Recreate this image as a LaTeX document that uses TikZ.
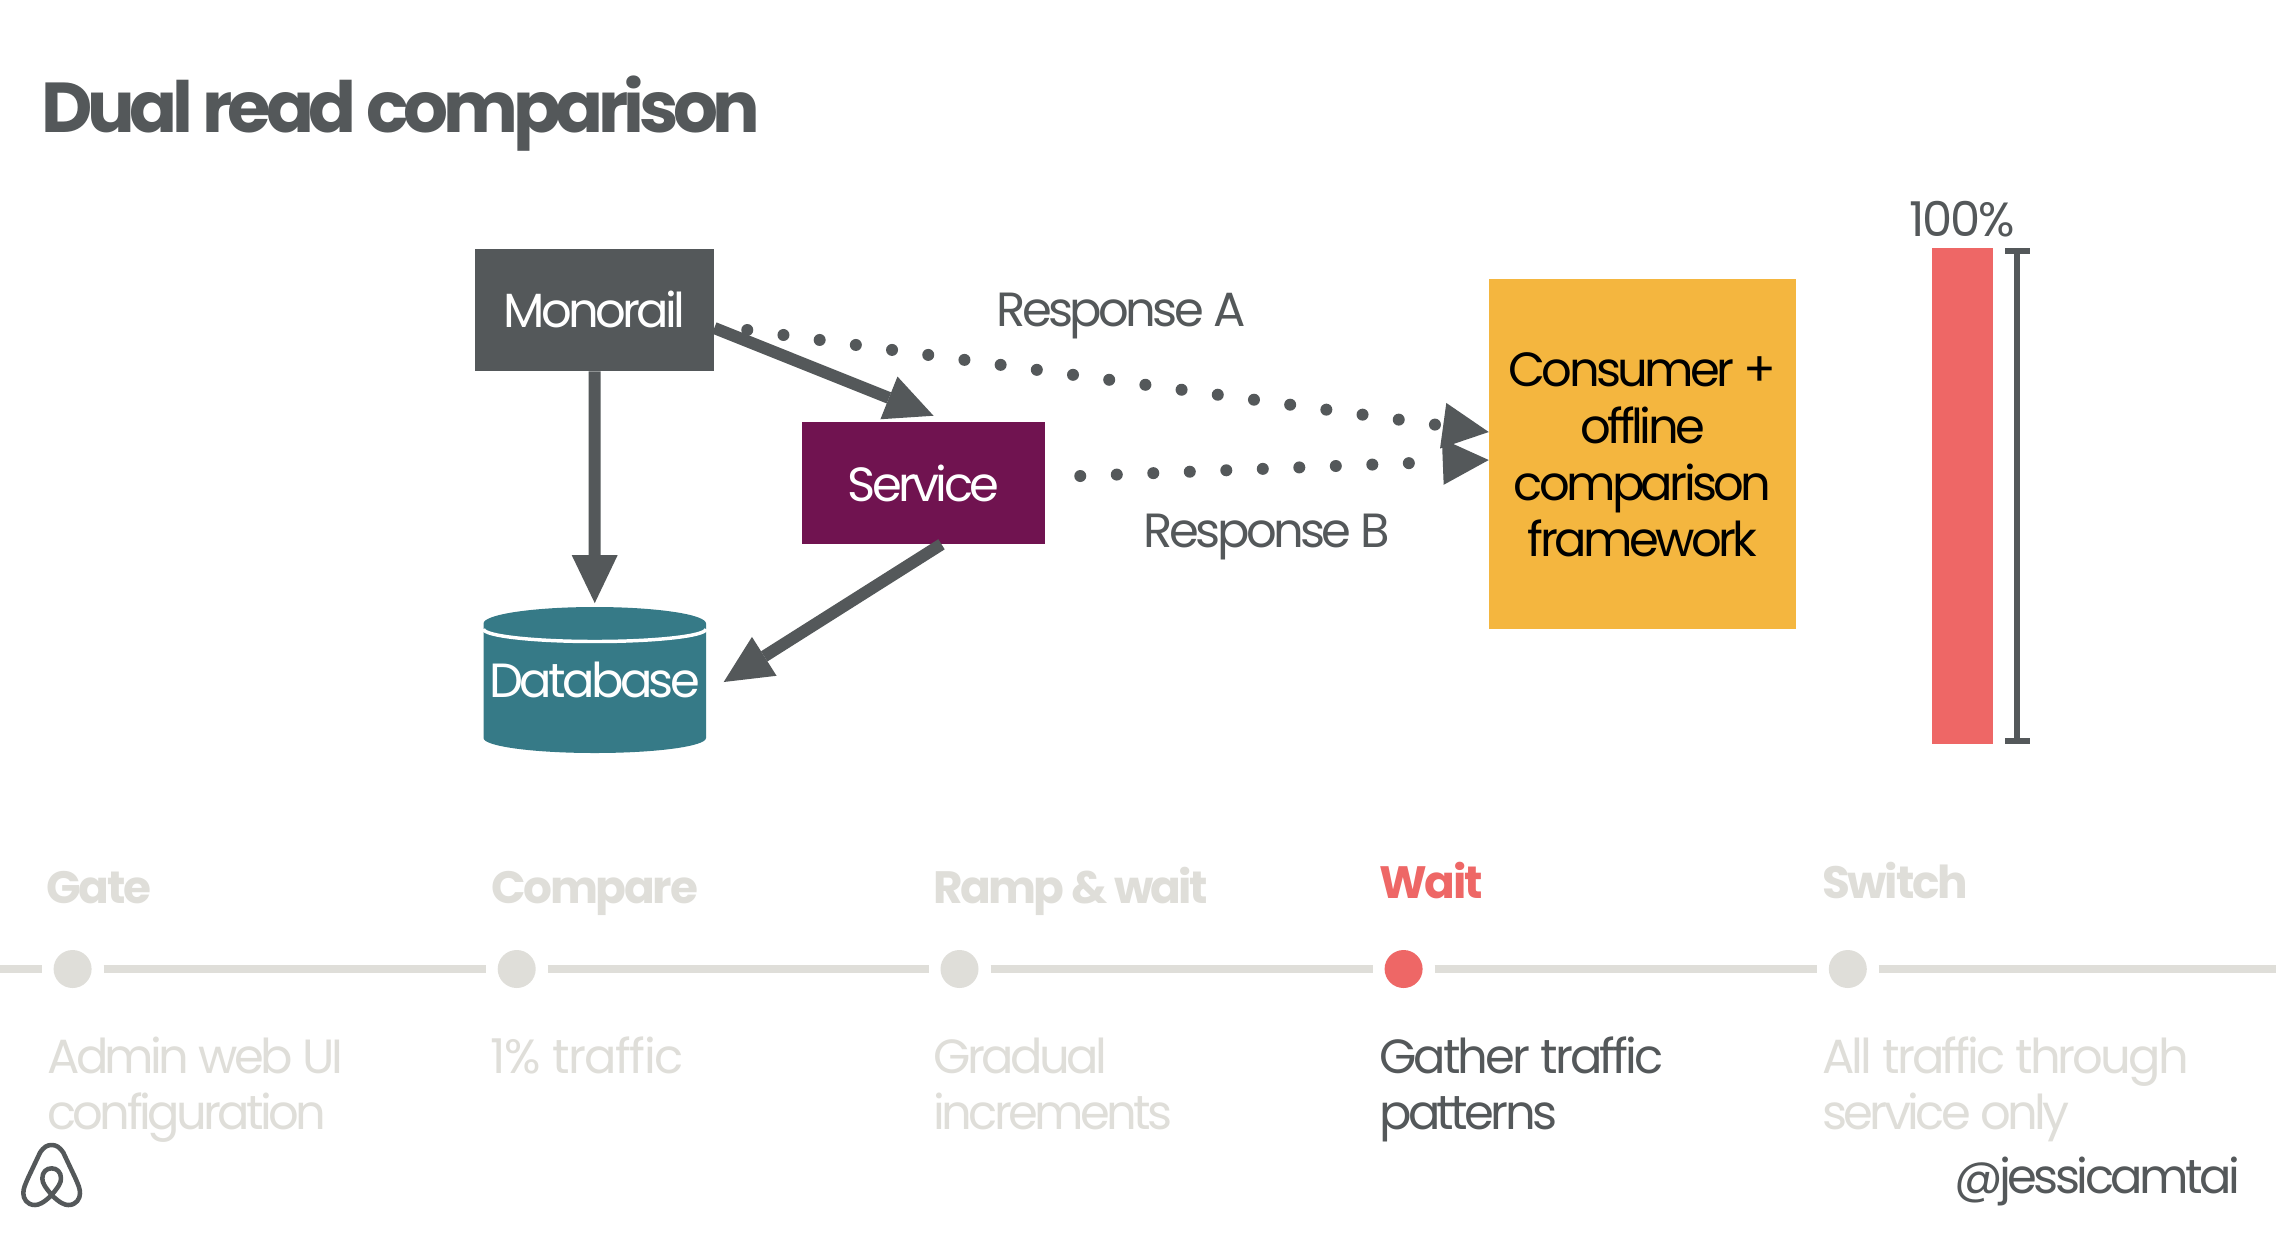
\documentclass[tikz,border=0pt]{standalone}
\usepackage{fontspec}
\setmainfont{Poppins}[LetterSpace=-7.5]
\usetikzlibrary{arrows.meta,calc}
\definecolor{ink}{HTML}{54585A}
\definecolor{plum}{HTML}{701350}
\definecolor{teal}{HTML}{367A87}
\definecolor{amber}{HTML}{F4B63F}
\definecolor{coral}{HTML}{EE6766}
\definecolor{pale}{HTML}{DFDED9}
\newcommand{\bodyfs}{\fontsize{36}{42.6}\selectfont}
\newcommand{\loose}{\addfontfeature{LetterSpace=-5}}
\newcommand{\headfs}{\fontsize{34}{40}\bfseries\selectfont\addfontfeature{LetterSpace=-5}}
\tikzset{
  px/.style={x=0.75pt,y=-0.75pt},
  boxn/.style={inner sep=0pt,align=center,text=white,font=\bodyfs},
  solidarr/.style={draw=ink,line width=9pt,-{Triangle[length=36pt,width=34.5pt,line width=0pt]}},
  dotarr/.style={draw=ink,line width=9pt,line cap=round,dash pattern=on 0pt off 27.4pt,-{Triangle[length=34.5pt,width=34.5pt,line width=0pt]}},
  lbl/.style={inner sep=0pt,anchor=base,text=ink,font=\bodyfs},
  hd/.style={inner sep=0pt,anchor=base west,text=pale,font=\headfs},
  sub/.style={inner sep=0pt,anchor=base west,text=pale,font=\bodyfs},
  pt/.style={circle,fill=pale,draw=none,minimum size=28.5pt,inner sep=0pt,outer sep=0pt},
  seg/.style={draw=pale,line width=5.5pt,shorten >=9pt,shorten <=9pt},
}
\begin{document}
\begin{tikzpicture}[px]
\useasboundingbox[fill=white] (0,0) rectangle (2276,1236);
% title
\node[inner sep=0pt,anchor=base west,text=ink,font=\fontsize{53}{60}\bfseries\selectfont\addfontfeature{LetterSpace=-7.5}] (title) at (41,132) {Dual read comparison};
% boxes
\node[boxn,fill=ink,minimum width=179.25pt,minimum height=91.5pt,text height=0pt,text depth=0pt] (mono) at (594.5,310) {};
\node[inner sep=0pt,text=white,font=\bodyfs] (monot) at (594.5,309) {Monorail};
\node[boxn,fill=plum,minimum width=182.25pt,minimum height=91.5pt] (svc) at (923.5,483) {Service};
\node[boxn,fill=amber,minimum width=230.25pt,minimum height=262.5pt] (fw) at (1642.5,453.5) {};
\node[inner sep=0pt,align=center,text=black,font=\bodyfs] (fwt) at (1642.5,455) {Consumer +\\offline\\comparison\\framework};
% database
\fill[teal] (483.5,623.5) arc[start angle=180,end angle=360,x radius=111.25,y radius=16.5] -- (706,738) arc[start angle=0,end angle=180,x radius=111.25,y radius=15] -- cycle;
\draw[white,line width=2.6pt] (483.5,629) arc[start angle=180,end angle=0,x radius=111.25,y radius=12.5];
\node[boxn,minimum width=166pt,minimum height=109pt] (db) at (594.75,680) {Database};
% connectors
\draw[solidarr] (mono.south) -- ($(db.north)+(0,-4)$);
\draw[solidarr] ($(mono.east)+(0,18)$) -- ($(svc.north)+(10,-6)$);
\draw[solidarr] ($(svc.south)+(18,0)$) -- ($(db.east)+(18,2)$);
\draw[dotarr] ($(mono.east)+(33,20)$) -- ($(fw.west)+(0,-21.5)$);
\draw[dotarr] ($(svc.east)+(35,-7)$) -- ($(fw.west)+(0,6.5)$);
\node[lbl] (ra) at (1121,326) {Response A};
\node[lbl] (rb) at (1267,547) {Response B};
% percent bar
\fill[coral] (1932,248) rectangle (1993,744);
\node[lbl,font=\bodyfs\loose] (pct) at (1962,236) {100\%};
\draw[ink,line width=4.5pt] (2017,251) -- (2017,741);
\draw[ink,line width=4.5pt] (2005,251) -- (2030,251);
\draw[ink,line width=4.5pt] (2005,741) -- (2030,741);
% timeline
\coordinate (tl0) at (-30,969);
\coordinate (tl6) at (2300,969);
\node[pt] (p1) at (72.6,969) {};
\node[pt] (p2) at (516.7,969) {};
\node[pt] (p3) at (959.5,969) {};
\node[pt,fill=coral] (p4) at (1403.6,969) {};
\node[pt] (p5) at (1847.8,969) {};
\draw[seg] (tl0) -- (p1);
\draw[seg] (p1) -- (p2);
\draw[seg] (p2) -- (p3);
\draw[seg] (p3) -- (p4);
\draw[seg] (p4) -- (p5);
\draw[seg] (p5) -- (tl6);
\node[hd] (h1) at (46,903) {Gate};
\node[hd] (h2) at (491,903) {Compare};
\node[hd,font=\headfs\addfontfeature{LetterSpace=-6}] (h3) at (933,903) {Ramp \& wait};
\node[hd,text=coral] (h4) at (1379,898) {Wait};
\node[hd] (h5) at (1822,898) {Switch};
\node[sub] (s1a) at (47,1073) {Admin web UI};
\node[sub] (s1b) at (47,1129) {configuration};
\node[sub,font=\bodyfs\addfontfeature{LetterSpace=-3}] (s2a) at (490,1073) {1\% traffic};
\node[sub] (s3a) at (933,1073) {Gradual};
\node[sub] (s3b) at (933,1129) {increments};
\node[sub,text=ink,font=\bodyfs\addfontfeature{LetterSpace=-6}] (s4a) at (1379,1073) {Gather traffic};
\node[sub,text=ink] (s4b) at (1379,1129) {patterns};
\node[sub,font=\bodyfs\addfontfeature{LetterSpace=-6}] (s5a) at (1822,1073) {All traffic through};
\node[sub] (s5b) at (1822,1129) {service only};
\node[lbl,anchor=base east] (handle) at (2240,1193) {@jessicamtai};
% logo
\begin{scope}[x=0.25pt,y=-0.25pt,yshift=-1040*0.75pt]
\draw[ink,line width=3.4pt,line join=round]
  (155,465) .. controls (135,440) and (127,430) .. (127,415)
  .. controls (127,395) and (140,385) .. (155,385)
  .. controls (170,385) and (183,395) .. (183,415)
  .. controls (183,430) and (175,440) .. (155,465)
  .. controls (180,490) and (195,495) .. (205,495)
  .. controls (230,495) and (240,475) .. (240,460)
  .. controls (240,445) and (235,435) .. (225,412)
  -- (190,338)
  .. controls (178,320) and (168,315) .. (155,315)
  .. controls (142,315) and (132,320) .. (120,338)
  -- (85,412)
  .. controls (75,435) and (70,445) .. (70,460)
  .. controls (70,475) and (80,495) .. (105,495)
  .. controls (115,495) and (130,490) .. (155,465) -- cycle;
\end{scope}
\end{tikzpicture}
\end{document}
